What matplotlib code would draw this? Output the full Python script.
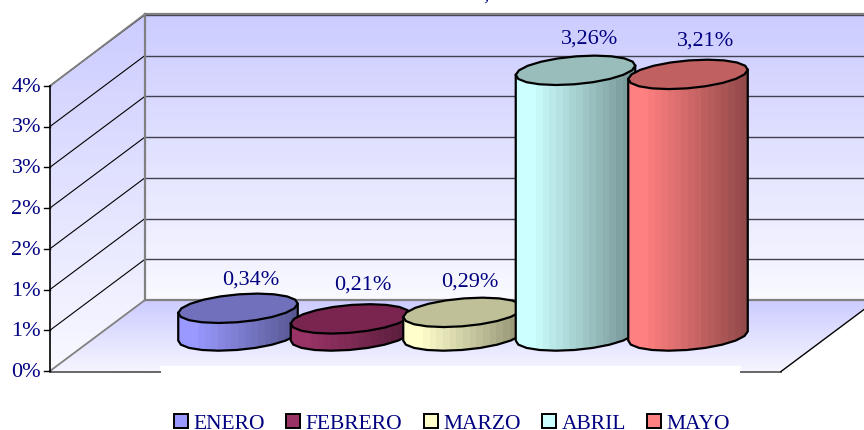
import numpy as np
import matplotlib
matplotlib.use("Agg")
from matplotlib import pyplot as plt
from matplotlib.patches import Patch, Polygon, Rectangle

plt.rcParams['font.family'] = ['Liberation Serif', 'DejaVu Serif']

months = ['ENERO', 'FEBRERO', 'MARZO', 'ABRIL', 'MAYO']
values = [0.34, 0.21, 0.29, 3.26, 3.21]
value_labels = ['0,34%', '0,21%', '0,29%', '3,26%', '3,21%']
tick_values = [0, 0.5, 1, 1.5, 2, 2.5, 3, 3.5]
tick_labels = ['0%', '1%', '1%', '2%', '2%', '3%', '3%', '4%']
side_colors = ['#9999FF', '#993366', '#FFFFCC', '#CCFFFF', '#FF8080']
top_colors = ['#7070BC', '#7A2450', '#BFBF98', '#99BDBA', '#C06060']

# label offsets from bar top, pixels
label_dx = [13, 12, 7, 14, 18]
label_dy = [28, 34, 30, 31, 33]

W, H = 864, 430
PX_PER_PCT = 81.5
BAR_STEP = 112.5
ink = '#000080'

fig = plt.figure(figsize=(W / 100, H / 100), dpi=100)

# chrome of the fake 3d box, in pixels
bg = fig.add_axes([0, 0, 1, 1])
bg.set_xlim(0, W)
bg.set_ylim(H, 0)
bg.axis('off')

wall = np.linspace(0, 1, 64).reshape(-1, 1)
def gradient(top, bottom):
    t = np.array(matplotlib.colors.to_rgb(top))
    b = np.array(matplotlib.colors.to_rgb(bottom))
    return (t + (b - t) * wall[:, :, None]).astype(float)

back = bg.imshow(gradient('#CCCCFF', '#F9F9FF'), extent=(145, W, 300, 14), aspect='auto', zorder=1)
side = bg.imshow(gradient('#CCCCFF', '#F9F9FF'), extent=(50, 145, 371, 14), aspect='auto', zorder=1)
side.set_clip_path(Polygon([(50, 86), (145, 14), (145, 300), (50, 371)], transform=bg.transData))
floor = bg.imshow(gradient('#CCCCFF', '#F5F5FF'), extent=(50, W, 371, 300), aspect='auto', zorder=1)
floor.set_clip_path(Polygon([(145, 300), (876, 300), (781, 371), (50, 371)], transform=bg.transData))
bg.add_patch(Rectangle((160, 366), 581, 8, fc='white', ec='none', zorder=2))

for v in tick_values[1:]:
    off = v * PX_PER_PCT
    bg.plot([145, W], [300 - off, 300 - off], color='#404050', lw=1.0, zorder=3)
    bg.plot([50, 145], [371 - off, 300 - off], color='black', lw=0.8, zorder=3)

gray = '#808080'
bg.plot([145, W], [14, 14], color=gray, lw=1.6, zorder=4)
bg.plot([145, 145], [14, 300], color=gray, lw=1.6, zorder=4)
bg.plot([145, W], [300, 300], color=gray, lw=1.6, zorder=4)
bg.plot([50, 145], [86, 14], color=gray, lw=1.3, zorder=4)
bg.plot([50, 145], [371, 300], color=gray, lw=1.3, zorder=4)
bg.plot([50, 160], [371.5, 371.5], color='#666666', lw=1.4, zorder=4)
bg.plot([741, 781], [371.5, 371.5], color='#666666', lw=1.4, zorder=4)
bg.plot([781, 866], [371.5, 308], color='black', lw=1.0, zorder=4)
bg.plot([50, 50], [86, 371], color='black', lw=1.2, zorder=5)

for v, lab in zip(tick_values, tick_labels):
    y = 371 - v * PX_PER_PCT
    bg.plot([44, 50], [y, y], color='black', lw=1.0, zorder=5)
    bg.text(41, y + 1.5, lab, color=ink, fontsize=16, ha='right', va='center')

bg.text(486, -5, ',', color=ink, fontsize=16, ha='center', va='center')

# cylinders live on a data axes: x = month index, y = percent
FLOOR_Y = 336
ax = fig.add_axes([0, 0, 1, 1], facecolor='none')
ax.axis('off')
xlim = (-238 / BAR_STEP, (W - 238) / BAR_STEP)
ylim = ((FLOOR_Y - H) / PX_PER_PCT, FLOOR_Y / PX_PER_PCT)

# coarse outline, the original cylinders look faceted
t = np.linspace(0, 2 * np.pi, 21)
dx = (56.5 * np.cos(t) + 19.5 * np.sin(t)) / BAR_STEP
dy = 14.7 * np.sin(t) / PX_PER_PCT

for i, (val, side_c, top_c) in enumerate(zip(values, side_colors, top_colors)):
    z = 10 + i * 2
    left = i + dx.min()
    right = i + dx.max()

    # body outline: lower half of the base, then up around the top
    lo = np.argmin(dx)
    hi = np.argmax(dx)
    idx = np.r_[lo:len(t) - 1, 0:hi + 1]
    xs = np.r_[i + dx[idx], right, left]
    ys = np.r_[dy[idx], val + dy[hi], val + dy[lo]]
    body = Polygon(np.c_[xs, ys], closed=True, fc='none', ec='black', lw=1.6, zorder=z + 1)
    ax.add_patch(body)

    base = np.array(matplotlib.colors.to_rgb(side_c))
    frac = np.linspace(0, 1, 18)
    shade = np.where(frac < 0.12, 1.0, 1.0 - 0.42 * (frac - 0.12) / 0.88)
    strips = (base[None, :] * shade[:, None])[None, :, :]
    im = ax.imshow(strips, extent=(left, right, ylim[0], ylim[1]), aspect='auto',
                   interpolation='nearest', zorder=z)
    im.set_clip_path(body)

    ax.add_patch(Polygon(np.c_[i + dx, val + dy], closed=True, fc=top_c, ec='black', lw=1.6, zorder=z + 1))

    ax.text(i + label_dx[i] / BAR_STEP, val + label_dy[i] / PX_PER_PCT, value_labels[i],
            color=ink, fontsize=16, ha='center', va='center', zorder=40)

ax.set_xlim(xlim)
ax.set_ylim(ylim)

handles = [Patch(fc=c, ec='black', lw=1.4) for c in side_colors]
fig.legend(handles, months, ncol=5, loc='center', bbox_to_anchor=(452 / W, 1 - 424 / H), frameon=False,
           fontsize=15.5, labelcolor=ink, handlelength=0.65, handleheight=0.65, handletextpad=0.25,
           columnspacing=1.0, borderpad=0, borderaxespad=0)

fig.savefig('out.png', dpi=100)
